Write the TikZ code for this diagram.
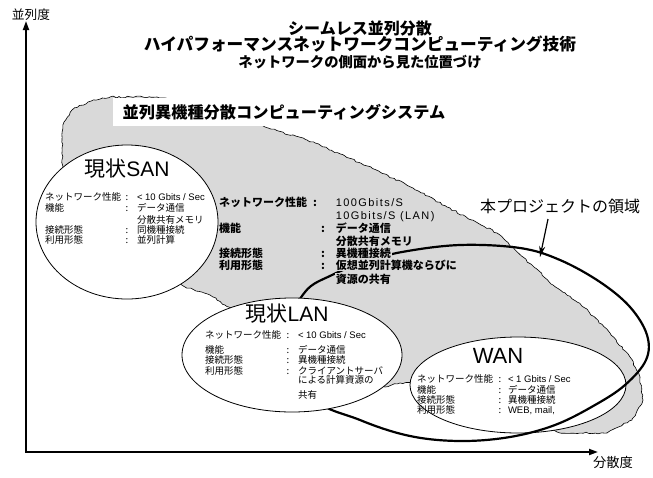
\documentclass[tikz,border=0pt]{standalone}
\usepackage{fontspec}
\setmainfont{Noto Sans CJK JP}
\newfontfamily\lat{Liberation Sans}
\newfontfamily\latsp[LetterSpace=13]{Liberation Sans}
\usetikzlibrary{arrows.meta,decorations.pathmorphing,shapes.geometric}
\newcommand\fsz[1]{\fontsize{#1}{#1}\selectfont}
\definecolor{blobgray}{gray}{0.85}
\begin{document}
\begin{tikzpicture}[x=1pt,y=-1pt,
  tx/.style={inner sep=0pt, outer sep=0pt, anchor=base west},
  sm/.style={tx, font=\fsz{9.5}},
  smc/.style={tx, anchor=base, font=\fsz{9.5}},
  md/.style={tx, font=\fsz{11}\bfseries},
  mdv/.style={md, fill=blobgray, inner sep=0.8pt},
  mdl/.style={tx, font=\fsz{11}\latsp, fill=blobgray, inner sep=0.8pt},
  oval/.style={ellipse, draw, fill=white, line width=0.8pt, inner sep=0pt},
  big/.style={tx, anchor=base, font=\fsz{21}}
]
\useasboundingbox (0,0) rectangle (653,477);
\pgfmathsetseed{7}
% gray blob
\draw[fill=blobgray, line width=0.6pt, decorate,
      decoration={random steps, segment length=3pt, amplitude=0.9pt}]
  (63,175) -- (62,140) -- (64,122) -- (72,110) -- (88,102) -- (110,97) -- (157,97)
  -- (200,103) -- (240,115) -- (265,127) -- (307,140) -- (345,156) -- (380,172)
  -- (413,188) -- (447,207) -- (497,233) -- (523,257) -- (553,285) -- (585,308)
  -- (610,333) -- (630,357) -- (640,377) -- (643,400) -- (632,420) -- (607,433)
  -- (560,433) -- (520,420) -- (440,385) -- (418,381) -- (400,383) -- (385,387)
  -- (330,360) -- (225,305) -- (210,295) -- (185,287) -- (150,260) -- cycle;
% system title box
\node[fill=white, inner sep=0pt, minimum width=342pt, minimum height=28pt,
      font=\fsz{16.2}\bfseries] (sys) at (284,112) {並列異機種分散コンピューティングシステム};
% WAN ellipse
\node[oval, minimum width=216pt, minimum height=96pt] (wan) at (518,385) {};
% project region
\draw[line width=2.2pt] plot[smooth cycle, tension=0.6] coordinates {
  (290,330) (305,292) (332,275) (365,262) (402,252) (460,245) (520,248) (560,260)
  (600,282) (630,307) (647,335) (646,360) (625,385) (595,405) (555,425) (510,437)
  (460,441) (410,436) (360,420) (310,395)};
% middle text
\node[md] (m1l) at (219,206) {ネットワーク性能};
\node[md] (m1c) at (313,206) {:};
\node[mdl] (m1v) at (335,206) {100Gbits/S};
\node[mdl] (m2v) at (335,219) {10Gbits/S (LAN)};
\node[md] (m3l) at (219,232.5) {機能};
\node[md] (m3c) at (321,232.5) {:};
\node[mdv] (m3v) at (335,232.5) {データ通信};
\node[mdv] (m4v) at (335,245) {分散共有メモリ};
\node[md] (m5l) at (219,257.5) {接続形態};
\node[md] (m5c) at (321,257.5) {:};
\node[mdv] (m5v) at (335,257.5) {異機種接続};
\node[md] (m6l) at (219,269.5) {利用形態};
\node[md] (m6c) at (321,269.5) {:};
\node[mdv] (m6v) at (335,269.5) {仮想並列計算機ならびに};
\node[mdv] (m7v) at (335,283) {資源の共有};
% SAN
\node[oval, minimum width=182pt, minimum height=154pt] (san) at (127,222) {};
\node[big] (sant) at (127,176.5) {現状{\lat SAN}};
\node[sm] (s1l) at (45,200.6) {ネットワーク性能};
\node[smc] (s1c) at (127,200.6) {:};
\node[sm] (s1v) at (137,200.6) {\lat < 10 Gbits / Sec};
\node[sm] (s2l) at (45,211.6) {機能};
\node[smc] (s2c) at (127,211.6) {:};
\node[sm] (s2v) at (137,211.6) {データ通信};
\node[sm] (s3v) at (137,223.6) {分散共有メモリ};
\node[sm] (s4l) at (45,233.6) {接続形態};
\node[smc] (s4c) at (127,233.6) {:};
\node[sm] (s4v) at (137,233.6) {同機種接続};
\node[sm] (s5l) at (45,243.6) {利用形態};
\node[smc] (s5c) at (127,243.6) {:};
\node[sm] (s5v) at (137,243.6) {並列計算};
% LAN
\node[oval, minimum width=220pt, minimum height=114pt] (lan) at (292,355) {};
\node[big] (lant) at (287,321) {現状{\lat LAN}};
\node[sm] (l1l) at (205,338.6) {ネットワーク性能};
\node[smc] (l1c) at (288,338.6) {:};
\node[sm] (l1v) at (298,338.6) {\lat < 10 Gbits / Sec};
\node[sm] (l2l) at (205,353.6) {機能};
\node[smc] (l2c) at (288,353.6) {:};
\node[sm] (l2v) at (298,353.6) {データ通信};
\node[sm] (l3l) at (205,363.6) {接続形態};
\node[smc] (l3c) at (288,363.6) {:};
\node[sm] (l3v) at (298,363.6) {異機種接続};
\node[sm] (l4l) at (205,374.3) {利用形態};
\node[smc] (l4c) at (288,374.3) {:};
\node[sm] (l4v) at (298,374.3) {クライアントサーバ};
\node[sm] (l5v) at (298,383.6) {による計算資源の};
\node[sm] (l6v) at (298,398.6) {共有};
% WAN text
\node[tx, anchor=base, font=\fsz{22}\lat] (want) at (498,363) {WAN};
\node[sm] (w1l) at (417,382.6) {ネットワーク性能};
\node[smc] (w1c) at (500,382.6) {:};
\node[sm] (w1v) at (508,382.6) {\lat < 1 Gbits / Sec};
\node[sm] (w2l) at (417,393) {機能};
\node[smc] (w2c) at (500,393) {:};
\node[sm] (w2v) at (508,393) {データ通信};
\node[sm] (w3l) at (417,403.6) {接続形態};
\node[smc] (w3c) at (500,403.6) {:};
\node[sm] (w3v) at (508,403.6) {異機種接続};
\node[sm] (w4l) at (417,413.6) {利用形態};
\node[smc] (w4c) at (500,413.6) {:};
\node[sm] (w4v) at (508,413.6) {\lat WEB, mail,};
% titles
\node[tx, anchor=base, font=\fsz{16}\bfseries] (t1) at (360,34) {シームレス並列分散};
\node[tx, anchor=base, font=\fsz{16.7}\bfseries] (t2) at (360,50) {ハイパフォーマンスネットワークコンピューティング技術};
\node[tx, anchor=base, font=\fsz{14.3}\bfseries] (t3) at (360,67) {ネットワークの側面から見た位置づけ};
% project label and arrow
\node[tx, anchor=base, font=\fsz{16}] (proj) at (560,212) {本プロジェクトの領域};
\coordinate (projtail) at (548,219);
\coordinate (projtip) at (540,257);
\draw[line width=1.2pt, -{Stealth[length=11pt,width=6pt]}] (projtail) -- (projtip);
% axes
\coordinate (orig) at (26,452);
\coordinate (ytop) at (26,21);
\coordinate (xend) at (598,452);
\draw[line width=1.8pt, {Triangle[length=9pt,width=6pt]}-{Triangle[length=9pt,width=6pt]}] (ytop) -- (orig) -- (xend);
\node[tx, anchor=base, font=\fsz{12.7}] (yl) at (31,19.5) {並列度};
\node[tx, anchor=base, font=\fsz{13.3}] (xl) at (613,467) {分散度};
\end{tikzpicture}
\end{document}
